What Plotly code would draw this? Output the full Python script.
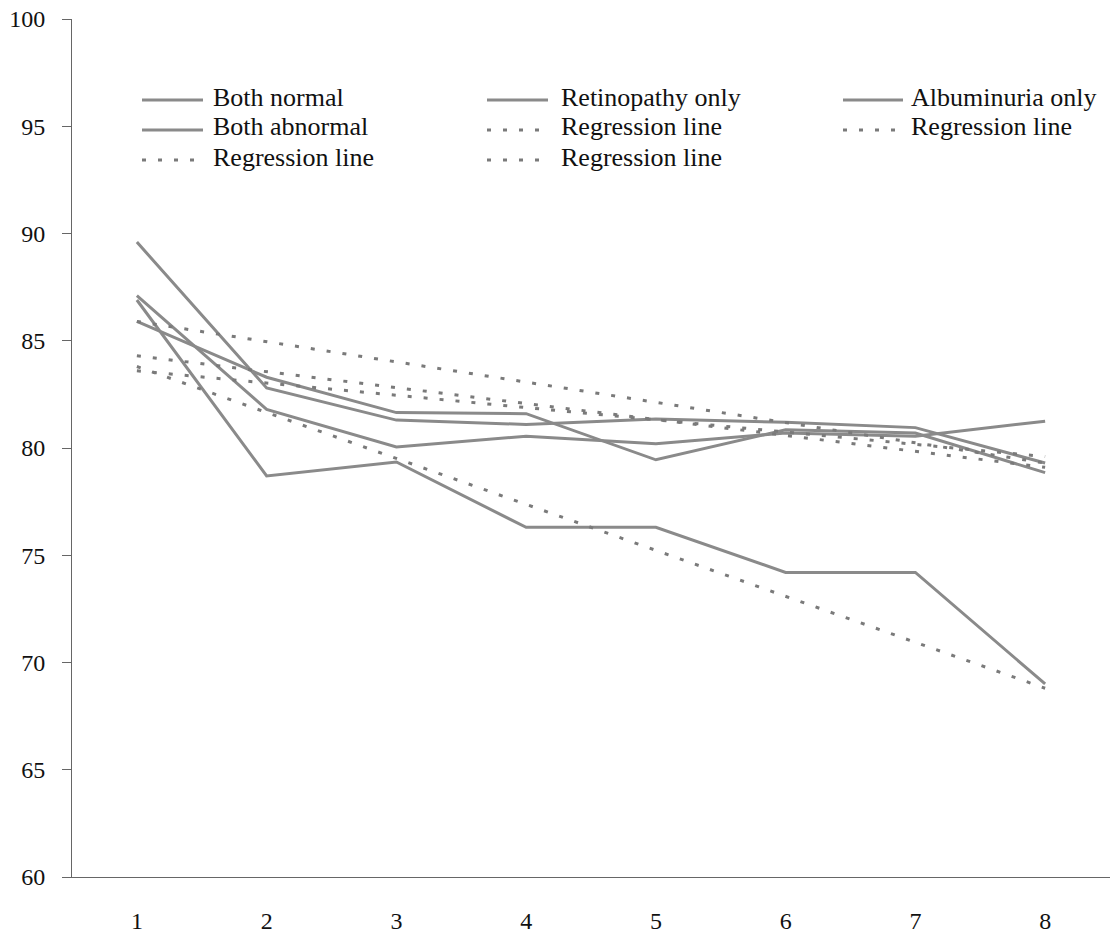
import plotly.graph_objects as go

x = [1, 2, 3, 4, 5, 6, 7, 8]
both_normal = [89.6, 82.8, 81.3, 81.1, 81.35, 81.2, 80.95, 79.3]
retinopathy_only = [85.9, 83.3, 81.65, 81.6, 79.45, 80.85, 80.7, 78.85]
albuminuria_only = [87.1, 81.8, 80.05, 80.55, 80.2, 80.7, 80.55, 81.25]
both_abnormal = [86.9, 78.7, 79.35, 76.3, 76.3, 74.2, 74.2, 69.0]

reg_x = [1, 8]
reg_both_normal = [85.9, 79.3]
reg_retinopathy = [84.3, 79.1]
reg_albuminuria = [83.6, 79.6]
reg_both_abnormal = [83.8, 68.8]

y_ticks = [60, 65, 70, 75, 80, 85, 90, 95, 100]

solid_col = "#8a8a8a"
dot_col = "#7a7a7a"
solid = dict(color=solid_col, width=3)
dotted = dict(color=dot_col, width=3, dash="4px,12px")

FAMILY = "Liberation Serif, Times New Roman, DejaVu Serif, serif"
font = dict(family=FAMILY, size=24, color="#111111")
legend_font = dict(family=FAMILY, size=26, color="#111111")

# traces in the reference legend order (row-major, 3 columns)
series = [
    ("Both normal", x, both_normal, solid),
    ("Retinopathy only", x, retinopathy_only, solid),
    ("Albuminuria only", x, albuminuria_only, solid),
    ("Both abnormal", x, both_abnormal, solid),
    ("Regression line", reg_x, reg_retinopathy, dotted),
    ("Regression line", reg_x, reg_albuminuria, dotted),
    ("Regression line", reg_x, reg_both_normal, dotted),
    ("Regression line", reg_x, reg_both_abnormal, dotted),
]

fig = go.Figure()
for name, xs, ys, ln in series:
    fig.add_trace(go.Scatter(x=xs, y=ys, mode="lines", name=name, line=ln, showlegend=False))

# Legend drawn as paper-positioned key (3 columns, 3 rows)
W, H = 1115, 941
ML, MR, MT, MB = 72, 5, 19, 64
pw, ph = W - ML - MR, H - MT - MB


def px_x(p):
    return (p - ML) / pw


def px_y(p):
    return (H - MB - p) / ph


col_sym = [(142, 203), (487, 548), (843, 903)]
col_text = [211, 559, 909]
row_y = [100, 130, 160]

shapes = []
annotations = []
for i, (name, xs, ys, ln) in enumerate(series):
    r, c = divmod(i, 3)
    x0, x1 = col_sym[c]
    shapes.append(dict(type="line", xref="paper", yref="paper",
                       x0=px_x(x0), x1=px_x(x1), y0=px_y(row_y[r]), y1=px_y(row_y[r]),
                       line=dict(color=ln["color"], width=ln["width"], dash=ln.get("dash", "solid"))))
    annotations.append(dict(text=name, xref="paper", yref="paper",
                            x=px_x(col_text[c]), y=px_y(row_y[r] - 3),
                            xanchor="left", yanchor="middle", showarrow=False,
                            font=legend_font))

fig.update_layout(
    width=W, height=H,
    margin=dict(l=ML, r=MR, t=MT, b=MB),
    paper_bgcolor="white", plot_bgcolor="white",
    font=font,
    showlegend=False,
    shapes=shapes,
    annotations=annotations,
    xaxis=dict(
        range=[0.5, 8.5], tickvals=x, ticktext=[str(v) for v in x],
        showgrid=False, zeroline=False, showline=True, linecolor="#666666", linewidth=1,
        ticks="", ticklabelstandoff=22, tickfont=font,
    ),
    yaxis=dict(
        range=[60, 100], tickvals=y_ticks,
        showgrid=False, zeroline=False, showline=True, linecolor="#666666", linewidth=1,
        ticks="outside", ticklen=9, tickcolor="#666666", ticklabelstandoff=12, tickfont=font,
    ),
)

fig.write_html("out.html")
